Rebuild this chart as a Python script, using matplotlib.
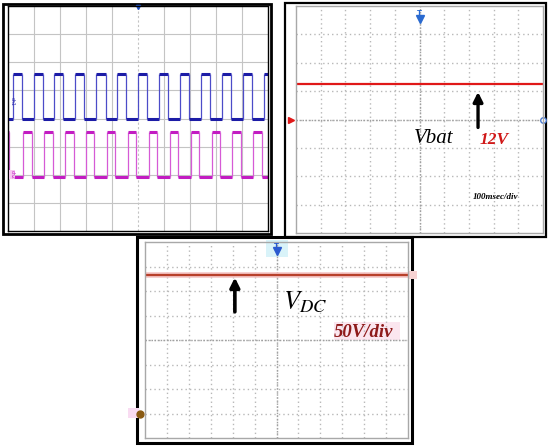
import matplotlib
matplotlib.use("Agg")
import matplotlib.pyplot as plt
from matplotlib.patches import Rectangle

plt.rcParams['mathtext.fontset'] = 'stix'

W, H = 550, 447

# top-left scope: gate pulses (time in divisions, level in divisions)
blue_rise = [0.18, 0.99, 1.78, 2.59, 3.40, 4.19, 5.00, 5.81, 6.60, 7.41, 8.22, 9.03, 9.83]
blue_fall = [0.53, 1.34, 2.13, 2.94, 3.75, 4.54, 5.35, 6.16, 6.95, 7.76, 8.57, 9.38]
blue_high, blue_low = 1.58, 0.0
mag_rise = [0.59, 1.40, 2.20, 3.00, 3.81, 4.62, 5.41, 6.22, 7.03, 7.83, 8.63, 9.44]
mag_fall = [0.05, 0.91, 1.72, 2.52, 3.32, 4.13, 4.94, 5.73, 6.54, 7.35, 8.15, 8.95, 9.76]
mag_high, mag_low = -0.48, -2.09

# top-right scope: battery voltage
vbat_t = [0, 10]
vbat_v = [1.24, 1.24]

# bottom scope: dc link voltage
vdc_t = [0, 12]
vdc_v = [2.65, 2.65]


def px_axes(fig, left, top, right, bottom):
    ax = fig.add_axes([left / W, 1 - bottom / H, (right - left) / W, (bottom - top) / H])
    ax.set_facecolor('none')
    return ax


def scope_grid(ax, nx, ny, solid):
    ax.set_xlim(0, nx)
    ax.set_ylim(-ny / 2, ny / 2)
    ax.set_xticks([])
    ax.set_yticks([])
    if solid:
        for i in range(1, nx):
            ls = (0, (2, 2)) if i == nx // 2 else '-'
            ax.axvline(i, color='#c4c4c4', lw=0.8, ls=ls, zorder=0)
        for j in range(1, ny):
            ax.axhline(j - ny / 2, color='#c4c4c4', lw=0.8, zorder=0)
    else:
        for i in range(1, nx):
            ax.axvline(i, color='#b8b8b8', lw=1.0, ls=(0, (1, 2.2)), zorder=0)
        for j in range(1, ny):
            ax.axhline(j - ny / 2, color='#b8b8b8', lw=1.0, ls=(0, (1, 2.2)), zorder=0)
        ax.axvline(nx / 2, color='#a0a0a0', lw=1.0, ls=(0, (1, 1.2)), zorder=0)
        ax.axhline(0, color='#a0a0a0', lw=1.0, ls=(0, (1, 1.2)), zorder=0)
        for s in ax.spines.values():
            s.set_color('#a8a8a8')
            s.set_linewidth(1.0)


def draw_square(ax, rise, fall, hi, lo, color, edge_color, t_end=10):
    edges = sorted([(t, hi) for t in rise] + [(t, lo) for t in fall])
    level = hi if edges[0][1] == lo else lo
    t0 = 0
    for t, new in edges:
        ax.hlines(level, t0, t, color=color, lw=2.2)
        ax.vlines(t, lo, hi, color=edge_color, lw=0.9)
        level, t0 = new, t
    ax.hlines(level, t0, t_end, color=color, lw=2.2)


fig = plt.figure(figsize=(W / 100, H / 100), dpi=100)
fig.patch.set_facecolor('white')

# overlay in pixel units for the photo-style frames and highlight boxes
frame = fig.add_axes([0, 0, 1, 1])
frame.set_xlim(0, W)
frame.set_ylim(H, 0)
frame.axis('off')
frame.add_patch(Rectangle((2.5, 3.5), 268, 230, fill=False, ec='black', lw=2.0))
frame.add_patch(Rectangle((285, 3), 261, 234, fill=False, ec='black', lw=1.6))
frame.add_patch(Rectangle((137, 237), 275, 206, fill=False, ec='black', lw=2.2))
frame.add_patch(Rectangle((334, 322), 66, 18, fc='#fbe6ef', ec='none'))
frame.add_patch(Rectangle((266, 240), 22, 17, fc='#d9f3f9', ec='none'))
frame.add_patch(Rectangle((128, 408), 11, 10, fc='#f9dcf2', ec='none'))
frame.add_patch(Rectangle((408, 271), 9, 8, fc='#f7d2d2', ec='none'))

# ---- panel 1: complementary gate signals
ax1 = px_axes(fig, 8, 6, 268, 231)
scope_grid(ax1, 10, 8, solid=True)
for s in ax1.spines.values():
    s.set_color('black')
    s.set_linewidth(1.0)
draw_square(ax1, blue_rise, blue_fall, blue_high, blue_low, '#1c1ca6', '#4c4cc8')
draw_square(ax1, mag_rise, mag_fall, mag_high, mag_low, '#c21cc2', '#d65ad6')
ax1.plot(5, 3.95, marker='v', color='#2050c0', ms=3, clip_on=False)
ax1.text(0.05, blue_low + 0.6, 'ch1', color='#2a2aa8', fontsize=3.5, rotation=-90,
         ha='left', va='center')
ax1.text(0.05, mag_low + 0.1, 'ch2', color='#c21cc2', fontsize=3.5, rotation=-90,
         ha='left', va='center', bbox=dict(fc='#f6c8f0', ec='none', pad=0.3))

# ---- panel 2: battery voltage
ax2 = px_axes(fig, 296, 6, 543, 233)
scope_grid(ax2, 10, 8, solid=False)
ax2.plot(vbat_t, vbat_v, color='#e01818', lw=1.6)
ax2.annotate('', xy=(7.37, 0.97), xytext=(7.37, -0.28),
             arrowprops=dict(arrowstyle='-|>', color='black', lw=2.4,
                             mutation_scale=14, shrinkA=0, shrinkB=0))
ax2.text(5.59, -0.68, 'Vbat', family='Liberation Serif', style='italic',
         fontsize=15, ha='center', va='center')
ax2.text(7.45, -0.72, '12V', family='Liberation Serif', style='italic',
         weight='bold', color='#d01818', fontsize=12.5, ha='left', va='center')
ax2.text(7.17, -2.74, '100msec/div', family='Liberation Serif', style='italic',
         weight='bold', fontsize=6.5, ha='left', va='center')
ax2.plot(5, 3.55, marker='v', color='#2a6ad0', ms=6, clip_on=False)
ax2.text(5, 3.75, 'T', color='#2a6ad0', fontsize=5, ha='center', va='center',
         weight='bold')
ax2.plot(-0.2, 0, marker='>', color='#e01818', ms=5, clip_on=False)
ax2.plot(10, 0, marker='o', mfc='white', mec='#4a7ad0', ms=4, clip_on=False)

# ---- panel 3: dc link voltage
ax3 = px_axes(fig, 145, 242, 408, 438)
scope_grid(ax3, 12, 8, solid=False)
ax3.plot(vdc_t, vdc_v, color='#f4c4c4', lw=4.0, solid_capstyle='butt')
ax3.plot(vdc_t, vdc_v, color='#b8402a', lw=1.6)
ax3.annotate('', xy=(4.1, 2.55), xytext=(4.1, 1.15),
             arrowprops=dict(arrowstyle='-|>', color='black', lw=2.6,
                             mutation_scale=14, shrinkA=0, shrinkB=0))
ax3.text(7.3, 1.55, '$V_{DC}$', fontsize=19, ha='center', va='center')
ax3.text(9.95, 0.3, '50V/div', family='Liberation Serif', style='italic',
         weight='bold', color='#8e1a1a', fontsize=13.5, ha='center', va='center')
ax3.plot(6, 3.62, marker='v', color='#2a5ad0', ms=6, clip_on=False)
ax3.text(6, 3.82, 'T', color='#2a5ad0', fontsize=5, ha='center', va='center',
         weight='bold')
ax3.plot(-0.25, -3.0, marker='o', color='#8a5a12', ms=5, clip_on=False)

fig.savefig('out.png', dpi=100)
